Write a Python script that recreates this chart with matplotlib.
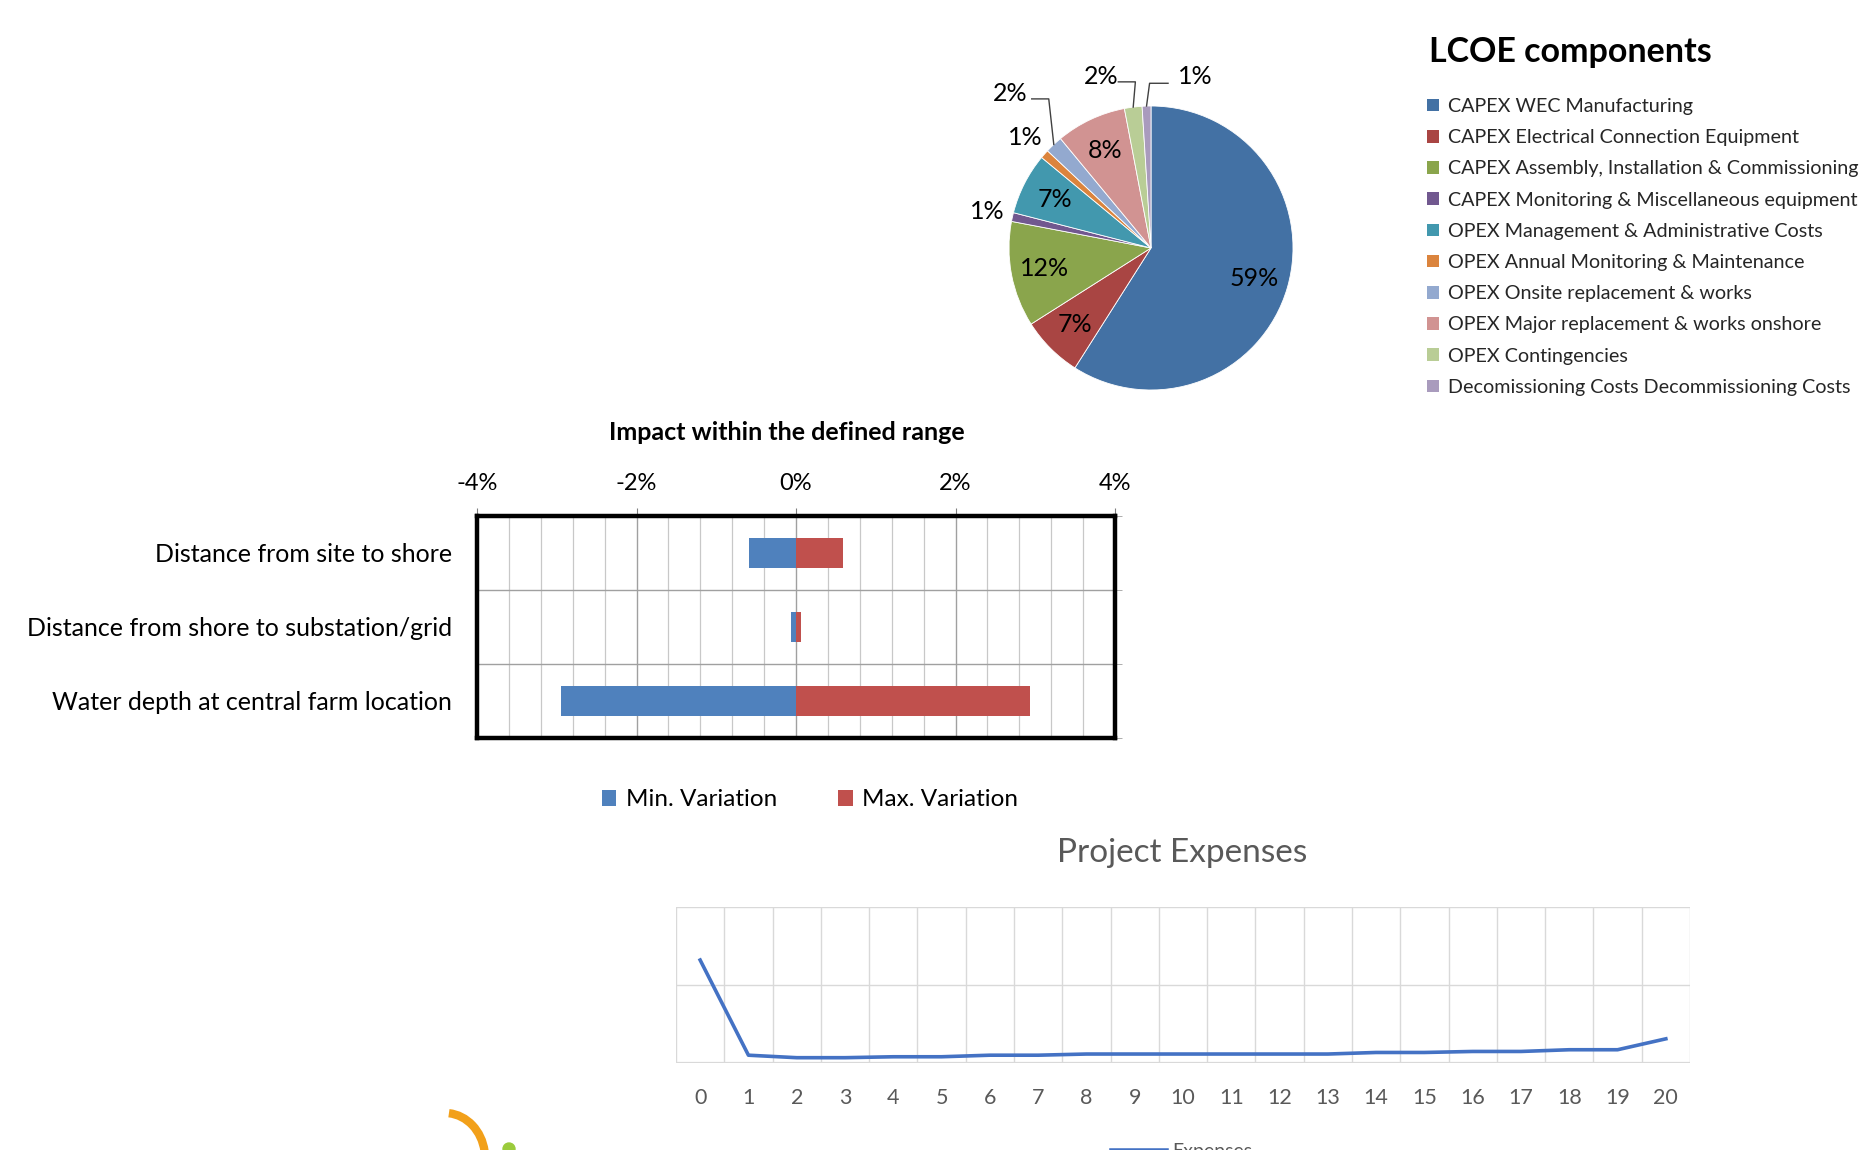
import numpy as np
import matplotlib
matplotlib.use("Agg")
import matplotlib.pyplot as plt
from matplotlib.patches import Patch, Arc, Circle
from matplotlib.lines import Line2D
from matplotlib.ticker import FuncFormatter, MultipleLocator, FixedLocator

plt.rcParams['font.family'] = ['Lato', 'DejaVu Sans']

# --- data ---
lcoe_labels = ["CAPEX WEC Manufacturing",
               "CAPEX Electrical Connection Equipment",
               "CAPEX Assembly, Installation & Commissioning",
               "CAPEX Monitoring & Miscellaneous equipment",
               "OPEX Management & Administrative Costs",
               "OPEX Annual Monitoring & Maintenance",
               "OPEX Onsite replacement & works",
               "OPEX Major replacement & works onshore",
               "OPEX Contingencies",
               "Decomissioning Costs Decommissioning Costs"]
lcoe_share = [59, 7, 12, 1, 7, 1, 2, 8, 2, 1]
lcoe_colors = ["#4371A4", "#A94543", "#8AA54C", "#71588F", "#4298AE",
               "#DB843D", "#93A9CF", "#D19392", "#B9CD96", "#A99BBD"]

params = ["Distance from site to shore",
          "Distance from shore to substation/grid",
          "Water depth at central farm location"]
min_var = [-0.0059, -0.0006, -0.0295]
max_var = [0.0059, 0.0006, 0.0293]

years = list(range(21))
expenses = [1.32, 0.10, 0.068, 0.068, 0.08, 0.08, 0.10, 0.10, 0.115, 0.115, 0.115,
            0.115, 0.115, 0.115, 0.135, 0.135, 0.148, 0.148, 0.17, 0.17, 0.31]

W, H = 1860, 1150
fig = plt.figure(figsize=(W / 100, H / 100), dpi=100)
fig.patch.set_facecolor("white")


def rect(x0, y0, x1, y1):
    # pixel box (top-left origin) -> figure fraction
    return [x0 / W, 1 - y1 / H, (x1 - x0) / W, (y1 - y0) / H]


# ---------------- pie ----------------
cx, cy, r = 1151, 248, 142
axp = fig.add_axes(rect(cx - r, cy - r, cx + r, cy + r))
wedges, _ = axp.pie(lcoe_share, colors=lcoe_colors, startangle=90, counterclock=False,
                    wedgeprops=dict(edgecolor="white", linewidth=0.6))
axp.set_xlim(-1, 1)
axp.set_ylim(-1, 1)
axp.set_aspect("equal")

# label placement: 'in' inside, 'out' outside, or leader line
modes = ["in", "in", "in", "out", "in", "out", "lead", "in", "lead", "lead"]
leaders = {6: dict(txt=(-0.99, 1.09), ha="center", elbow=(-0.72, 1.05), end=-0.84),
           8: dict(txt=(-0.35, 1.21), ha="center", elbow=(-0.11, 1.17), end=-0.23),
           9: dict(txt=(0.19, 1.21), ha="left", elbow=(-0.01, 1.16), end=0.12)}
for i, (w, v) in enumerate(zip(wedges, lcoe_share)):
    th = np.deg2rad((w.theta1 + w.theta2) / 2)
    lab = f"{v}%"
    if modes[i] == "in":
        axp.text(0.76 * np.cos(th), 0.76 * np.sin(th), lab, ha="center", va="center",
                 fontsize=18, color="black")
    elif modes[i] == "out":
        axp.text(1.18 * np.cos(th), 1.18 * np.sin(th), lab, ha="center", va="center",
                 fontsize=18, color="black", clip_on=False)
    else:
        L = leaders[i]
        ex, ey = L["elbow"]
        axp.plot([np.cos(th), ex, L["end"]], [np.sin(th), ey, ey], color="#404040",
                 lw=1.0, clip_on=False)
        axp.text(L["txt"][0], L["txt"][1], lab, ha=L["ha"], va="center", fontsize=18,
                 color="black", clip_on=False)

fig.text(1429 / W, 1 - 52 / H, "LCOE components", fontsize=24.5, fontweight="bold",
         ha="left", va="center")
leg = fig.legend([Patch(facecolor=c) for c in lcoe_colors], lcoe_labels,
                 loc="upper left", bbox_to_anchor=(1427 / W, 1 - 98 / H),
                 frameon=False, fontsize=14.2, handlelength=0.6, handleheight=0.6,
                 handletextpad=0.45, labelspacing=0.72, borderpad=0, borderaxespad=0)
for t in leg.get_texts():
    t.set_color("#262626")

# ---------------- tornado bars ----------------
axb = fig.add_axes(rect(477, 516, 1115, 738))
ypos = np.arange(len(params))
axb.barh(ypos, min_var, height=0.4, color="#4F81BD", label="Min. Variation", zorder=3)
axb.barh(ypos, max_var, height=0.4, color="#C0504D", label="Max. Variation", zorder=3)
axb.set_xlim(-0.04, 0.04)
axb.set_ylim(2.5, -0.5)
axb.xaxis.tick_top()
axb.xaxis.set_major_locator(MultipleLocator(0.02))
axb.xaxis.set_minor_locator(MultipleLocator(0.004))
axb.xaxis.set_major_formatter(FuncFormatter(lambda v, p: f"{v * 100:.0f}%"))
axb.tick_params(axis="x", which="major", labelsize=17, pad=10, length=6, color="#808080")
axb.tick_params(axis="x", which="minor", length=0)
axb.grid(axis="x", which="major", color="#A0A0A0", lw=1.0, zorder=0)
axb.grid(axis="x", which="minor", color="#C8C8C8", lw=0.9, zorder=0)
axb.set_yticks(ypos)
axb.set_yticklabels(params, fontsize=18)
axb.tick_params(axis="y", which="major", length=0, pad=18)
axb.yaxis.set_minor_locator(FixedLocator([-0.5, 0.5, 1.5, 2.5]))
axb.tick_params(axis="y", which="minor", right=True, left=False, length=5, color="#A0A0A0")
axb.grid(axis="y", which="minor", color="#A0A0A0", lw=1.0, zorder=0)
for s in axb.spines.values():
    s.set_linewidth(3.2)
    s.set_color("black")
fig.text(787 / W, 1 - 433 / H, "Impact within the defined range", fontsize=18,
         fontweight="bold", ha="center", va="center")
lb = axb.legend(loc="center", bbox_to_anchor=(810 / W, 1 - 800 / H),
                bbox_transform=fig.transFigure, ncol=2, frameon=False, fontsize=17.5,
                handlelength=0.6, handleheight=0.6, handletextpad=0.4,
                columnspacing=2.5)

# ---------------- project expenses line ----------------
axl = fig.add_axes(rect(676, 907, 1690, 1063))
axl.plot(years, expenses, color="#4472C4", lw=2.6, label="Expenses", zorder=3)
axl.set_xlim(-0.5, 20.5)
axl.set_ylim(0, 2)
axl.set_xticks(years)
axl.xaxis.set_minor_locator(FixedLocator(np.arange(-0.5, 21, 1)))
axl.set_yticks([0, 1, 2])
axl.set_yticklabels([])
axl.tick_params(axis="both", which="both", length=0)
axl.tick_params(axis="x", labelsize=15.5, labelcolor="#595959", pad=18)
axl.grid(axis="x", which="minor", color="#D9D9D9", lw=1.0)
axl.grid(axis="y", which="major", color="#D9D9D9", lw=1.0)
for s in axl.spines.values():
    s.set_visible(False)
axl.axhline(0, color="#D9D9D9", lw=1.6, zorder=2)
fig.text(1182 / W, 1 - 853 / H, "Project Expenses", fontsize=24, color="#595959",
         ha="center", va="center")
fig.legend([Line2D([0], [0], color="#4472C4", lw=4)], ["Expenses"],
           loc="center left", bbox_to_anchor=(1112 / W, 1 - 1152 / H),
           frameon=False, fontsize=14, handlelength=2.8, handletextpad=0.3,
           labelcolor="#595959", borderpad=0, borderaxespad=0)

# small logo fragment at the bottom edge
axo = fig.add_axes(rect(420, 1090, 560, 1150))
axo.set_xlim(420, 560)
axo.set_ylim(1150, 1090)
axo.axis("off")
axo.add_patch(Arc((445, 1158), 80, 90, theta1=-85, theta2=-10, color="#F2A01A", lw=6))
axo.add_patch(Circle((509, 1149), 6, color="#9BCB3C"))

fig.savefig("out.png", dpi=100, facecolor="white")
